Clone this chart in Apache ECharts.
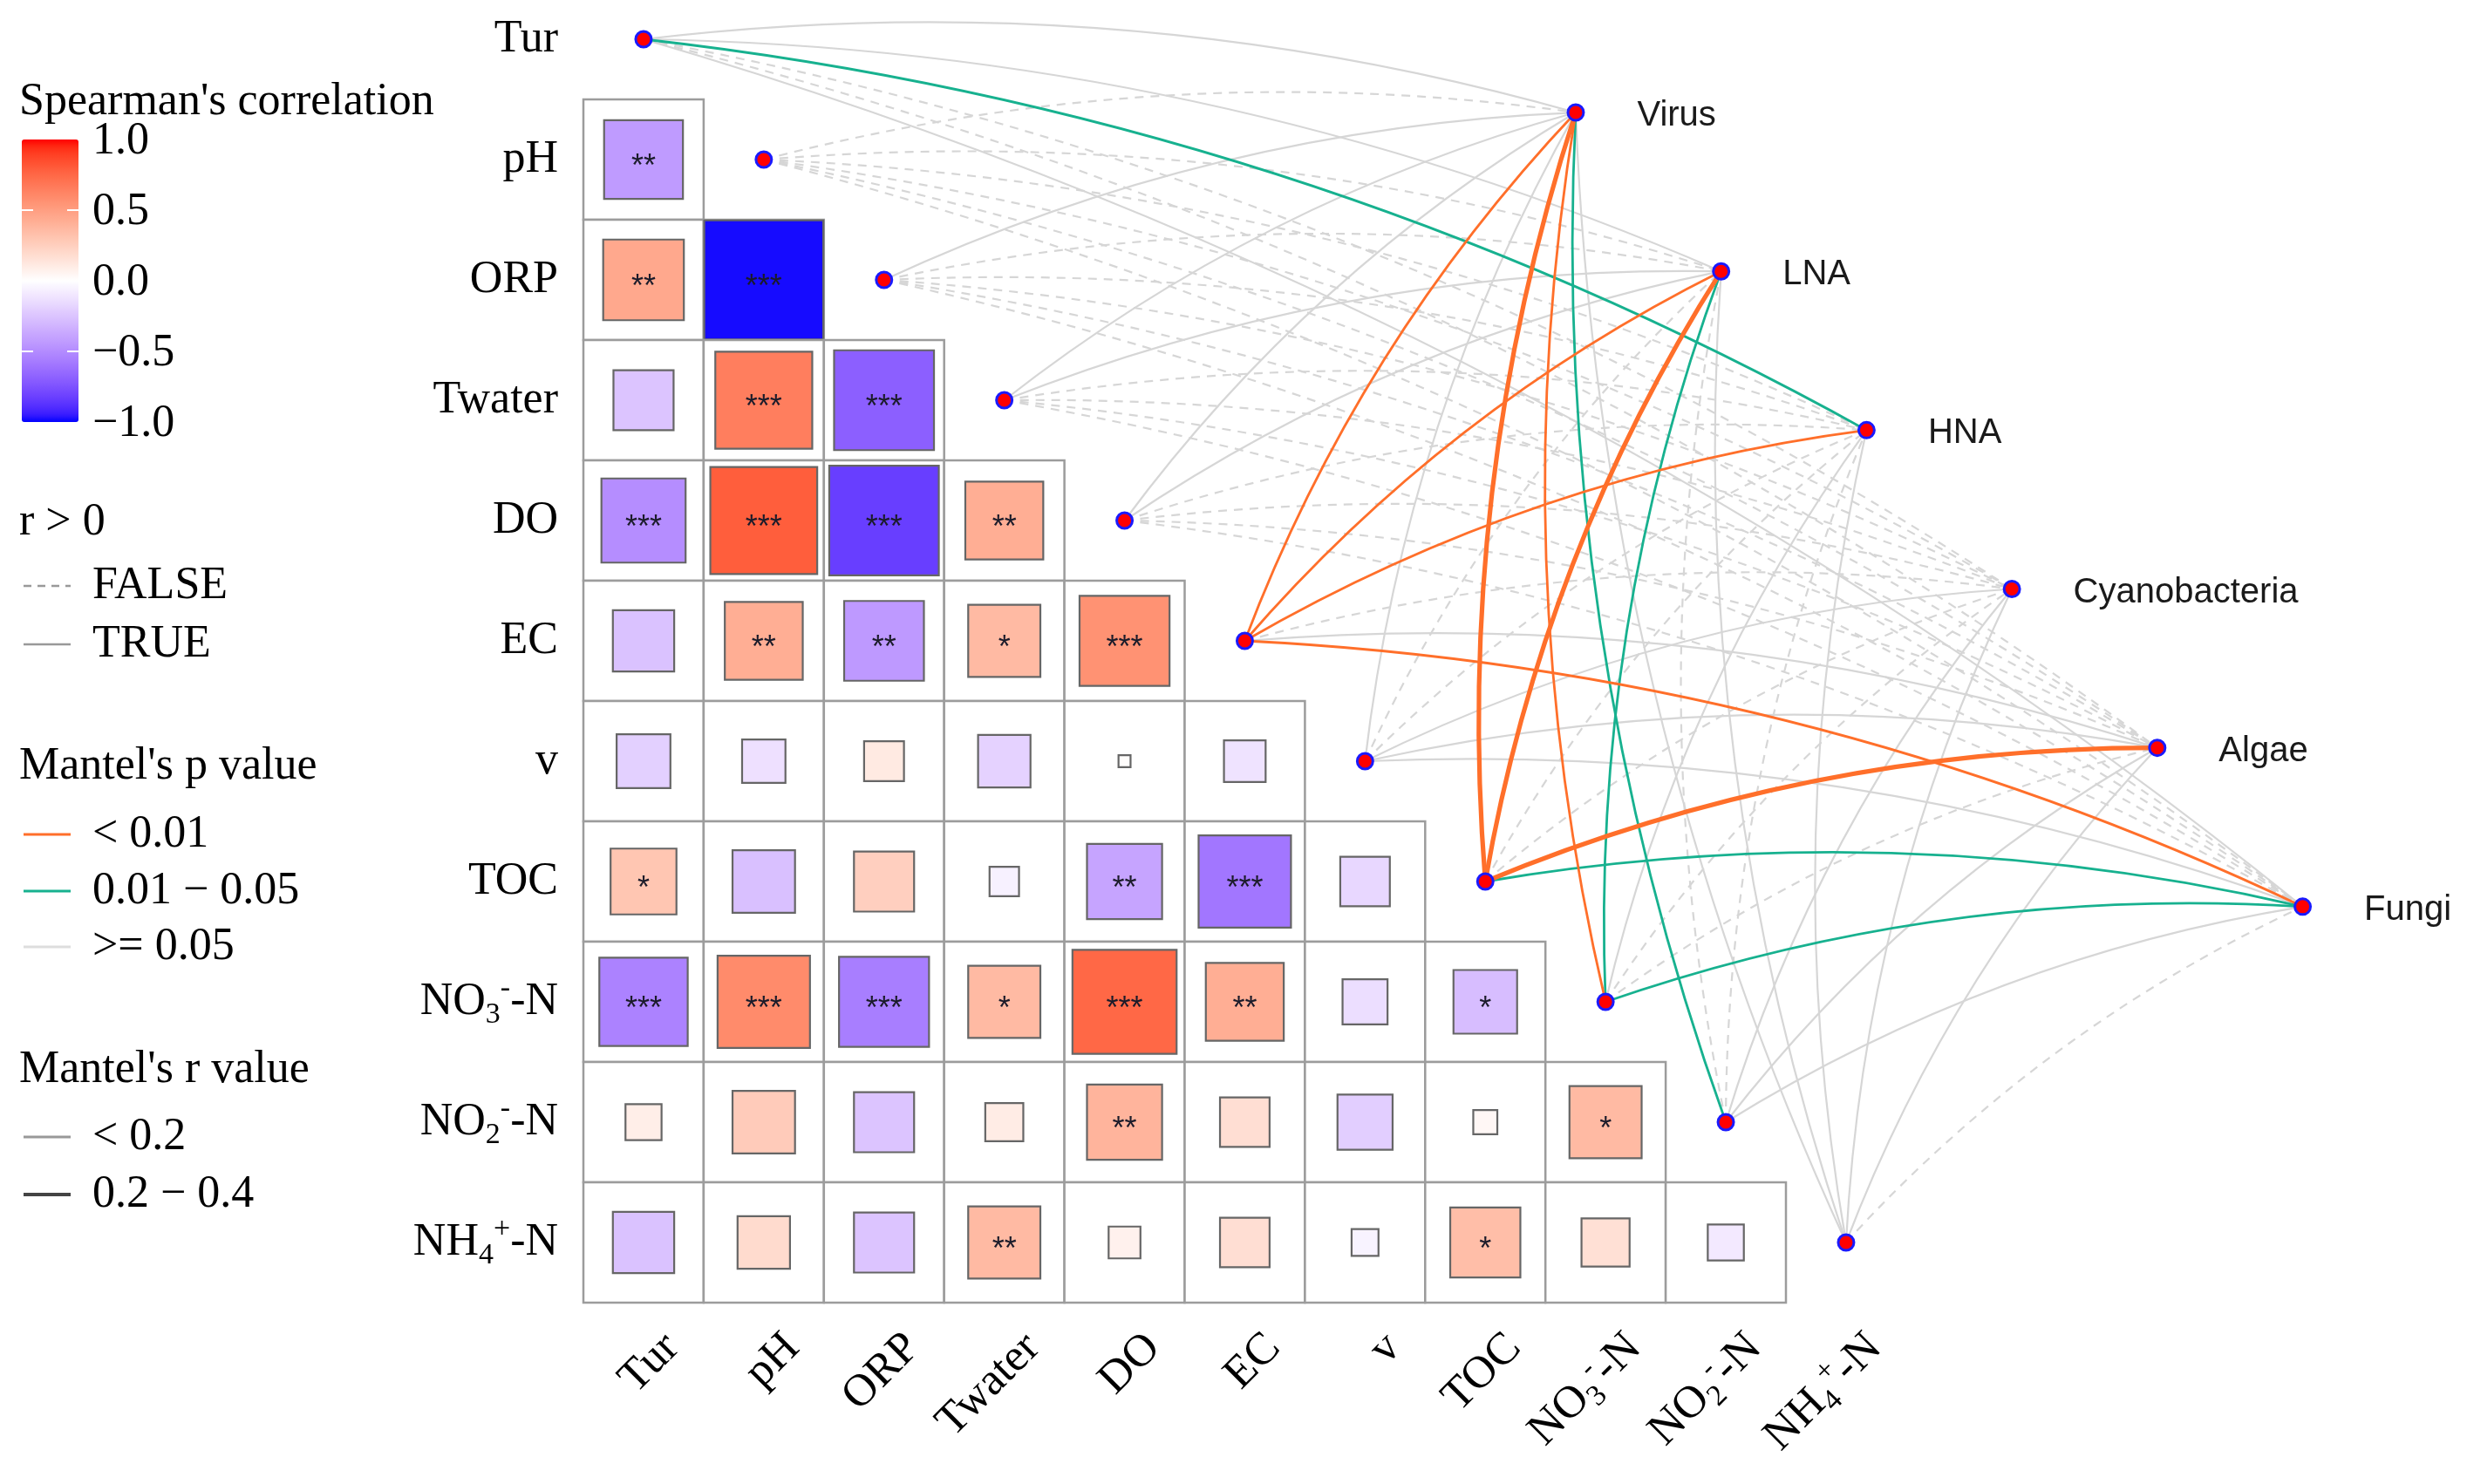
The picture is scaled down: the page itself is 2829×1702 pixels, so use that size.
<!DOCTYPE html>
<html><head><meta charset="utf-8">
<script src="https://cdn.jsdelivr.net/npm/echarts@6/dist/echarts.min.js"></script>
<style>html,body{margin:0;padding:0;background:#fff}#chart{width:2829px;height:1702px}</style>
</head><body><div id="chart"></div>
<script>
// ---------------- DATA ----------------
const envVars = ['Tur','pH','ORP','Twater','DO','EC','v','TOC','NO3-N','NO2-N','NH4-N'];
const envRich = ['{m|Tur}','{m|pH}','{m|ORP}','{m|Twater}','{m|DO}','{m|EC}','{m|v}','{m|TOC}',
  '{m|NO}{sub|3}{sup|-}{m|-N}','{m|NO}{sub|2}{sup|-}{m|-N}','{m|NH}{sub|4}{sup|+}{m|-N}'];
// Spearman correlation, lower triangle (row i, columns 0..i-1)
const spearmanR = [
  [],
  [-0.43],
  [0.45, -0.98],
  [-0.25, 0.65, -0.69],
  [-0.49, 0.79, -0.83, 0.42],
  [-0.26, 0.42, -0.44, 0.36, 0.56],
  [-0.20, -0.13, 0.11, -0.19, 0.01, -0.12],
  [0.30, -0.27, 0.25, -0.06, -0.39, -0.59, -0.17],
  [-0.54, 0.59, -0.56, 0.36, 0.75, 0.42, -0.14, -0.28],
  [0.09, 0.27, -0.25, 0.10, 0.39, 0.17, -0.21, 0.04, 0.36],
  [-0.26, 0.19, -0.25, 0.36, 0.07, 0.17, -0.05, 0.34, 0.16, -0.09]
];
const spearmanSig = [
  [],
  ['**'],
  ['**','***'],
  ['','***','***'],
  ['***','***','***','**'],
  ['','**','**','*','***'],
  ['','','','','',''],
  ['*','','','','**','***',''],
  ['***','***','***','*','***','**','','*'],
  ['','','','','**','','','','*'],
  ['','','','**','','','','*','','']
];
const groups = ['Virus','LNA','HNA','Cyanobacteria','Algae','Fungi'];
// Mantel r and p: rows = groups, columns = envVars
const mantelR = [
  [0.09,-0.06, 0.05, 0.04, 0.06, 0.16, 0.07, 0.31, 0.15, 0.13, 0.03],
  [0.07,-0.05,-0.04, 0.05, 0.05, 0.14,-0.03, 0.29, 0.12,-0.04, 0.05],
  [0.12,-0.07,-0.06,-0.05,-0.04, 0.15,-0.03,-0.04, 0.05,-0.05, 0.04],
  [-0.05,-0.06,-0.07,-0.04,-0.06,-0.03, 0.04,-0.05,-0.04, 0.03, 0.06],
  [-0.06,-0.05,-0.04,-0.06,-0.05, 0.06, 0.05, 0.33,-0.03, 0.04, 0.05],
  [0.05,-0.04,-0.05,-0.06,-0.07, 0.16, 0.04, 0.14, 0.13, 0.06,-0.04]
];
const mantelP = [
  [0.12, 0.71, 0.35, 0.42, 0.28, 0.003, 0.22, 0.001, 0.004, 0.028, 0.58],
  [0.19, 0.66, 0.62, 0.37, 0.31, 0.005, 0.64, 0.001, 0.021, 0.68, 0.41],
  [0.032,0.74, 0.69, 0.61, 0.57, 0.006, 0.66, 0.62, 0.33, 0.71, 0.47],
  [0.63, 0.72, 0.77, 0.58, 0.70, 0.55, 0.40, 0.61, 0.59, 0.44, 0.29],
  [0.66, 0.61, 0.57, 0.69, 0.63, 0.27, 0.36, 0.001, 0.55, 0.42, 0.31],
  [0.38, 0.60, 0.64, 0.71, 0.74, 0.004, 0.45, 0.018, 0.024, 0.27, 0.52]
];
const colorbarTicks = [1.0, 0.5, 0.0, -0.5, -1.0];
const colorbarTickLabels = ['1.0','0.5','0.0','\u22120.5','\u22121.0'];

// ---------------- LAYOUT / STYLE ----------------
const groupStart = [7.752, 0.609], groupStep = [1.209, 1.32];
const groupPos = g => [groupStart[0] + g * groupStep[0], groupStart[1] + g * groupStep[1]];
const SERIF = '"Liberation Serif","Times New Roman",serif';
const SANS = '"Liberation Sans",Arial,sans-serif';
const ORANGE = '#FF6F2A', GREEN = '#17B18F', LIGHTGREY = '#D6D6D6';

// Lab interpolation (ggplot-like gradient)
function s2l(c){c/=255;return c<=0.04045?c/12.92:Math.pow((c+0.055)/1.055,2.4);}
function l2s(c){const v=c<=0.0031308?12.92*c:1.055*Math.pow(Math.max(c,0),1/2.4)-0.055;return Math.round(Math.max(0,Math.min(1,v))*255);}
function rgb2lab(rgb){const R=s2l(rgb[0]),G=s2l(rgb[1]),B=s2l(rgb[2]);
  const X=(R*0.4124+G*0.3576+B*0.1805)/0.95047,Y=R*0.2126+G*0.7152+B*0.0722,Z=(R*0.0193+G*0.1192+B*0.9505)/1.08883;
  const f=t=>t>0.008856?Math.cbrt(t):7.787*t+16/116;const fx=f(X),fy=f(Y),fz=f(Z);
  return [116*fy-16,500*(fx-fy),200*(fy-fz)];}
function lab2rgb(lab){const fy=(lab[0]+16)/116,fx=fy+lab[1]/500,fz=fy-lab[2]/200;
  const fi=t=>t*t*t>0.008856?t*t*t:(t-16/116)/7.787;
  const X=fi(fx)*0.95047,Y=fi(fy),Z=fi(fz)*1.08883;
  return [l2s(X*3.2406-Y*1.5372-Z*0.4986),l2s(-X*0.9689+Y*1.8758+Z*0.0415),l2s(X*0.0557-Y*0.2040+Z*1.0570)];}
const LAB_W=rgb2lab([255,255,255]), LAB_R=rgb2lab([255,0,0]), LAB_B=rgb2lab([0,0,255]);
function corrColor(v){const t=Math.min(1,Math.abs(v));const e=v>=0?LAB_R:LAB_B;
  const c=lab2rgb([0,1,2].map(k=>LAB_W[k]+(e[k]-LAB_W[k])*t));return 'rgb('+c.join(',')+')';}
const colorStops=[];for(let k=0;k<=40;k++){colorStops.push(corrColor(-1+k*0.05));}

// ---------------- BUILD SERIES DATA ----------------
const cellData=[];
spearmanR.forEach((row,i)=>row.forEach((r,j)=>cellData.push([j,i,r])));
const linkData=[];
groups.forEach((g,gi)=>envVars.forEach((e,ei)=>linkData.push([ei,gi,mantelR[gi][ei],mantelP[gi][ei]])));
linkData.sort((a,b)=>(b[3]-a[3])||(Math.abs(a[2])-Math.abs(b[2])));
const envNodes=envVars.map((_,i)=>[i,i]);
const groupNodes=groups.map((name,g)=>({name:name,value:groupPos(g)}));

const richStyles={
  m:{fontFamily:'Liberation Serif',fontSize:52,lineHeight:64,verticalAlign:'middle',fill:'#000',color:'#000'},
  sub:{fontFamily:'Liberation Serif',fontSize:34,lineHeight:34,verticalAlign:'bottom',fill:'#000',color:'#000'},
  sup:{fontFamily:'Liberation Serif',fontSize:34,lineHeight:34,verticalAlign:'top',fill:'#000',color:'#000'}
};

// ---------------- LEGEND GRAPHICS ----------------
const cb={left:25,top:160,w:65,h:324};
const lg=[];
const txt=(x,y,s)=>({type:'text',x:x,y:y,z:10,style:{text:s,font:'52px '+SERIF,fill:'#000',align:'left',verticalAlign:'middle'}});
const ln=(y,stroke,w,dash)=>({type:'line',z:10,shape:{x1:27,y1:y,x2:81,y2:y},style:{stroke:stroke,lineWidth:w,lineDash:dash||null}});
lg.push(txt(22,117,"Spearman's correlation"));
colorbarTicks.forEach((v,k)=>{
  const y=cb.top+(1-(v+1)/2)*cb.h;
  lg.push(txt(106,y+2,colorbarTickLabels[k]));
  if(Math.abs(v)===0.5){
    lg.push({type:'line',z:11,shape:{x1:cb.left,y1:y,x2:cb.left+13,y2:y},style:{stroke:'#fff',lineWidth:2}});
    lg.push({type:'line',z:11,shape:{x1:cb.left+cb.w-13,y1:y,x2:cb.left+cb.w,y2:y},style:{stroke:'#fff',lineWidth:2}});
  }
});
lg.push(txt(22,599,'r > 0'));
lg.push(ln(672,'#999',2.5,[9,7])); lg.push(txt(106,672,'FALSE'));
lg.push(ln(739,'#999',2.5)); lg.push(txt(106,739,'TRUE'));
lg.push(txt(22,879,"Mantel's p value"));
lg.push(ln(957,ORANGE,3)); lg.push(txt(106,957,'< 0.01'));
lg.push(ln(1022,GREEN,3)); lg.push(txt(106,1022,'0.01 \u2212 0.05'));
lg.push(ln(1086,'#DDDDDD',3)); lg.push(txt(106,1086,'>= 0.05'));
lg.push(txt(22,1227,"Mantel's r value"));
lg.push(ln(1304,'#999',3)); lg.push(txt(106,1304,'< 0.2'));
lg.push(ln(1370,'#444',4)); lg.push(txt(106,1370,'0.2 \u2212 0.4'));

// ---------------- CHART ----------------
const chart=echarts.init(document.getElementById('chart'),null,{renderer:'canvas',width:2829,height:1702});
chart.setOption({
  animation:false,
  backgroundColor:'#fff',
  grid:{left:669,right:91.5,top:10.5,bottom:208,containLabel:false},
  xAxis:{type:'value',min:-0.5,max:14.5,show:false},
  yAxis:{type:'value',min:-0.25,max:10.5,inverse:true,show:false},
  visualMap:{type:'continuous',min:-1,max:1,dimension:2,seriesIndex:1,orient:'vertical',
    left:cb.left,top:cb.top,itemWidth:cb.w,itemHeight:cb.h,padding:0,calculable:false,
    inRange:{color:colorStops},text:null,showLabel:false,hoverLink:false},
  graphic:lg,
  series:[
    { // Mantel links
      type:'custom',z:1,silent:true,clip:false,data:linkData,
      renderItem:function(params,api){
        const e=api.value(0),g=api.value(1),r=api.value(2),p=api.value(3);
        const a=api.coord([e,e]),b=api.coord(groupPos(g));
        const dx=b[0]-a[0],dy=b[1]-a[1],k=0.1;
        const cx=(a[0]+b[0])/2+k*dy,cy=(a[1]+b[1])/2-k*dx;
        const color=p<0.01?ORANGE:(p<0.05?GREEN:LIGHTGREY);
        const w=Math.abs(r)>=0.2?5.2:(p<0.05?2.8:2.2);
        return {type:'bezierCurve',shape:{x1:a[0],y1:a[1],x2:b[0],y2:b[1],cpx1:cx,cpy1:cy},
          style:{stroke:color,lineWidth:w,fill:null,lineDash:r>0?null:[10,8]}};
      }
    },
    { // correlation cells
      type:'custom',z:2,silent:true,clip:false,data:cellData,
      renderItem:function(params,api){
        const j=api.value(0),i=api.value(1),r=api.value(2);
        const c=api.coord([j,i]),s=api.size([1,1]);
        const side=s[0]*Math.sqrt(Math.abs(r));
        const sig=spearmanSig[i][j];
        const ch=[
          {type:'rect',shape:{x:c[0]-s[0]/2,y:c[1]-s[1]/2,width:s[0],height:s[1]},style:{fill:'#fff',stroke:'#9C9C9C',lineWidth:2.5}},
          {type:'rect',shape:{x:c[0]-side/2,y:c[1]-side/2,width:side,height:side},style:{fill:api.visual('color'),stroke:'#666',lineWidth:2.2}}
        ];
        if(sig){ch.push({type:'text',style:{text:sig,x:c[0],y:c[1]+9,align:'center',verticalAlign:'middle',font:'36px '+SANS,fill:'#1b1b2a'}});}
        return {type:'group',children:ch};
      }
    },
    { // env nodes
      type:'scatter',z:3,silent:true,data:envNodes,symbol:'circle',symbolSize:18,
      itemStyle:{color:'#FF0000',borderColor:'#1A1AFF',borderWidth:3,opacity:1}
    },
    { // group nodes
      type:'scatter',z:3,silent:true,data:groupNodes,symbol:'circle',symbolSize:18,
      itemStyle:{color:'#FF0000',borderColor:'#1A1AFF',borderWidth:3,opacity:1},
      label:{show:true,position:'right',distance:60,formatter:'{b}',fontFamily:'Liberation Sans',fontSize:40,color:'#1a1a1a',offset:[0,4]}
    },
    { // env labels (rows and columns)
      type:'custom',z:4,silent:true,clip:false,data:envNodes,
      renderItem:function(params,api){
        const i=api.value(0);
        const rowPt=api.coord([-0.5,i]);
        const colPt=api.coord([i,10.5]);
        return {type:'group',children:[
          {type:'text',x:rowPt[0]-29,y:rowPt[1],style:{text:envRich[i],rich:richStyles,align:'right',verticalAlign:'middle'}},
          {type:'text',x:colPt[0]+33,y:colPt[1]+44,rotation:Math.PI/4,style:{text:envRich[i],rich:richStyles,align:'right',verticalAlign:'middle'}}
        ]};
      }
    }
  ]
});
</script></body></html>
